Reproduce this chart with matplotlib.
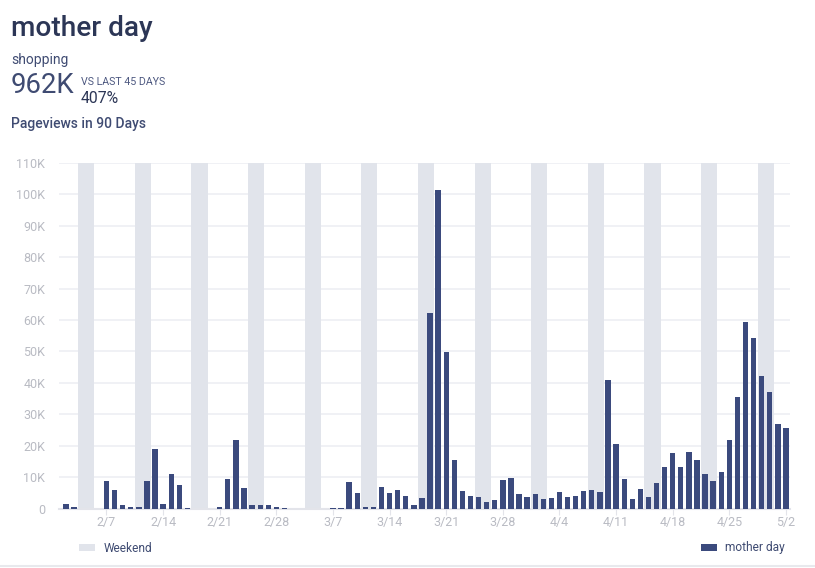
import matplotlib
matplotlib.use('Agg')
import matplotlib.pyplot as plt
import pandas as pd

plt.rcParams['font.family'] = ['Roboto', 'DejaVu Sans']

# pageviews per day, starting 2/2 (in thousands)
pageviews = [1.4, 0.4, 0, 0, 0, 8.8, 5.8, 1.0, 0.4, 0.4,
             8.9, 18.9, 1.3, 10.9, 7.4, 0.3, 0, 0, 0, 0.4,
             9.4, 21.9, 6.5, 1.0, 1.0, 1.0, 0.6, 0.3, 0, 0,
             0, 0, 0, 0.3, 0.3, 8.4, 5.0, 0.5, 0.5, 7.0,
             5.0, 6.0, 3.9, 1.0, 3.2, 62.3, 101.3, 49.7, 15.4, 5.6,
             3.9, 3.6, 2.1, 2.6, 9.0, 9.8, 4.7, 3.6, 4.5, 3.1,
             3.4, 5.4, 3.6, 4.0, 5.6, 5.8, 5.3, 40.8, 20.5, 9.4,
             3.0, 6.1, 3.6, 8.1, 13.2, 17.7, 13.1, 18.0, 15.6, 11.1,
             8.6, 11.5, 21.7, 35.5, 59.3, 54.4, 42.2, 37.0, 27.0, 25.5]
days = pd.date_range('2021-02-02', periods=len(pageviews))
weekend_days = [2, 3, 9, 10, 16, 17, 23, 24, 30, 31, 37, 38, 44, 45, 51, 52,
                58, 59, 65, 66, 72, 73, 79, 80, 86, 87]
weekend_top = [110] * len(weekend_days)
yticks = [0, 10, 20, 30, 40, 50, 60, 70, 80, 90, 100, 110]
yticklabels = ['0', '10K', '20K', '30K', '40K', '50K', '60K', '70K', '80K', '90K', '100K', '110K']
xticks = [5, 12, 19, 26, 33, 40, 47, 54, 61, 68, 75, 82, 89]
xticklabels = [f'{days[i].month}/{days[i].day}' for i in xticks]

W, H = 815, 568
navy = '#3b4a7d'
band = '#e1e4eb'
grid = '#eeeff3'
tick_grey = '#b9bbc3'
text_col = '#3f4b72'

fig = plt.figure(figsize=(W / 100, H / 100), dpi=100)
ax = fig.add_axes([59 / W, 1 - 508.5 / H, 731 / W, 345.5 / H])

weekend = ax.bar(weekend_days, weekend_top, width=1.0, color=band, zorder=1, label='Weekend')
bars = ax.bar(range(len(pageviews)), pageviews, width=0.66, color=navy, zorder=3, label='mother day')

ax.set_xlim(-0.87, 89.5)
ax.set_ylim(0, 110)
ax.set_yticks(yticks, yticklabels)
ax.set_xticks(xticks, xticklabels)
ax.grid(axis='y', color=grid, lw=1.2, zorder=0)
ax.set_axisbelow(True)
for s in ['top', 'right', 'left']:
    ax.spines[s].set_visible(False)
ax.spines['bottom'].set_color('#e3e4ea')
ax.spines['bottom'].set_linewidth(1.5)
ax.spines['bottom'].set_zorder(2)
ax.tick_params(axis='y', length=0, pad=10, labelsize=9, labelcolor=tick_grey)
ax.tick_params(axis='x', length=4, width=0.8, color='#e3e4ea', pad=1.5, labelsize=9, labelcolor=tick_grey)

# header block
fig.text(11 / W, 1 - 36 / H, 'mother day', fontsize=20.2, fontweight='medium', color='#2c3656')
fig.text(11 / W, 1 - 64 / H, 'shopping', fontsize=10, color=text_col)
fig.text(11 / W, 1 - 93 / H, '962K', fontsize=19.8, color=text_col)
fig.text(81 / W, 1 - 85 / H, 'VS LAST 45 DAYS', fontsize=7.7, color='#4d5880')
fig.text(81 / W, 1 - 103 / H, '407%', fontsize=11.3, color='#2c3656')
fig.text(11 / W, 1 - 128 / H, 'Pageviews in 90 Days', fontsize=10, fontweight='medium', color=text_col)

# two separate legends under the axes
leg_kw = dict(frameon=False, fontsize=8.6, labelcolor=text_col, handlelength=1.35, handleheight=0.5,
              handletextpad=0.68, borderpad=0, borderaxespad=0)
leg1 = fig.legend(handles=[weekend], loc='center left', bbox_to_anchor=(79 / W, 1 - 548 / H), **leg_kw)
leg2 = fig.legend(handles=[bars], loc='center right', bbox_to_anchor=(785 / W, 1 - 548 / H), **leg_kw)

# thin rule at the bottom of the card
fig.add_artist(plt.Line2D([0, 1], [1 - 566 / H, 1 - 566 / H], color='#e8e9ed', lw=1.5))

fig.savefig('out.png', dpi=100)
